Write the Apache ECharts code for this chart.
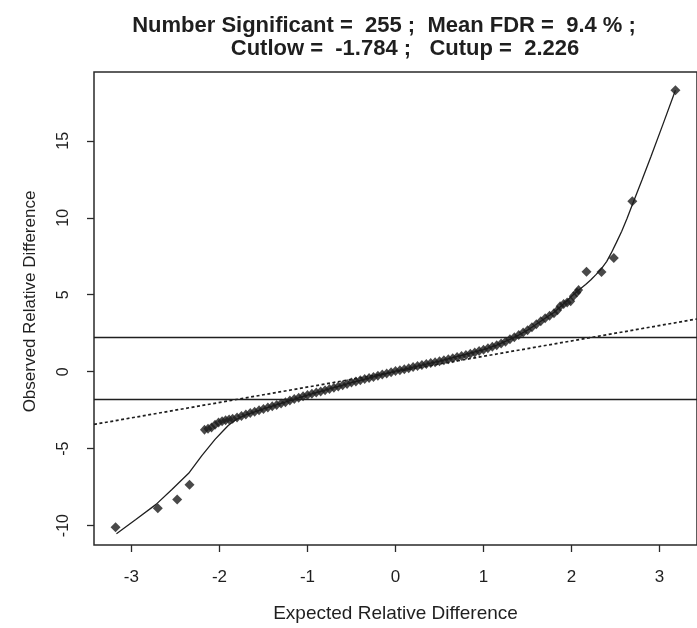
<!DOCTYPE html>
<html>
<head>
<meta charset="utf-8">
<script src="https://cdn.jsdelivr.net/npm/echarts@6/dist/echarts.min.js"></script>
<style>
  html, body { margin: 0; padding: 0; background: #fff; }
  #main { width: 697px; height: 628px; }
</style>
</head>
<body>
<div id="main"></div>
<script>
// ********
// * Data *
// ********

// Dense band of significant genes (expected, observed)
const clusterExpected = [
  -2.17, -2.13, -2.09, -2.05, -2.01, -1.97, -1.93, -1.89, -1.85, -1.80,
  -1.75, -1.70, -1.65, -1.60, -1.55, -1.50, -1.45, -1.40, -1.35, -1.30,
  -1.25, -1.20, -1.15, -1.10, -1.05, -1.00, -0.95, -0.90, -0.85, -0.80,
  -0.75, -0.70, -0.65, -0.60, -0.55, -0.50, -0.45, -0.40, -0.35, -0.30,
  -0.25, -0.20, -0.15, -0.10, -0.05, 0.00, 0.05, 0.10, 0.15, 0.20,
  0.25, 0.30, 0.35, 0.40, 0.45, 0.50, 0.55, 0.60, 0.65, 0.70,
  0.75, 0.80, 0.85, 0.90, 0.95, 1.00, 1.05, 1.10, 1.15, 1.20,
  1.25, 1.30, 1.35, 1.40, 1.45, 1.50, 1.55, 1.60, 1.65, 1.70,
  1.75, 1.80, 1.84, 1.87, 1.91, 1.95, 1.99, 2.02, 2.06, 2.08
];
const clusterObserved = [
  -3.78, -3.70, -3.62, -3.45, -3.30, -3.22, -3.15, -3.10, -3.05, -2.98,
  -2.88, -2.78, -2.69, -2.60, -2.51, -2.42, -2.33, -2.25, -2.16, -2.07,
  -1.98, -1.88, -1.78, -1.69, -1.60, -1.52, -1.44, -1.36, -1.28, -1.20,
  -1.12, -1.04, -0.96, -0.88, -0.80, -0.71, -0.63, -0.55, -0.48, -0.41,
  -0.34, -0.27, -0.19, -0.11, -0.03, 0.04, 0.10, 0.16, 0.23, 0.30,
  0.37, 0.44, 0.50, 0.56, 0.62, 0.68, 0.74, 0.81, 0.88, 0.95,
  1.02, 1.09, 1.17, 1.25, 1.34, 1.43, 1.52, 1.62, 1.72, 1.83,
  1.95, 2.10, 2.24, 2.38, 2.54, 2.70, 2.88, 3.08, 3.27, 3.47,
  3.64, 3.80, 3.99, 4.25, 4.40, 4.50, 4.58, 4.90, 5.15, 5.30
];

// Isolated points in both tails
const tailExpected = [-3.18, -2.70, -2.48, -2.34, 2.17, 2.34, 2.48, 2.69, 3.18];
const tailObserved = [-10.10, -8.87, -8.31, -7.34, 6.50, 6.48, 7.39, 11.08, 18.29];

// Smoothed fit through the points
const fitExpected = [
  -3.17, -2.95, -2.72, -2.54, -2.35, -2.20, -2.05, -1.96, -1.90, -1.83,
  -1.76, -1.70, -1.50, -1.00, -0.50, 0.00, 0.50, 1.00, 1.15, 1.30,
  1.40, 1.50, 1.60, 1.72, 1.80, 1.91, 2.00, 2.10, 2.16, 2.22,
  2.28, 2.34, 2.40, 2.45, 2.51, 2.57, 2.63, 2.69, 2.80, 2.90,
  3.04, 3.18
];
const fitObserved = [
  -10.53, -9.60, -8.62, -7.65, -6.60, -5.45, -4.40, -3.85, -3.50, -3.18,
  -2.96, -2.80, -2.42, -1.52, -0.71, 0.04, 0.68, 1.43, 1.72, 2.10,
  2.38, 2.70, 3.08, 3.55, 3.85, 4.42, 4.90, 5.39, 5.66, 5.97,
  6.32, 6.70, 7.17, 7.70, 8.40, 9.12, 9.95, 10.85, 12.45, 13.95,
  16.10, 18.29
];

// Identity line (observed = expected)
const identityEnds = [-3.425, 3.425];

const cutLow = -1.784;
const cutUp = 2.226;

const xTicks = [-3, -2, -1, 0, 1, 2, 3];
const yTicks = [-10, -5, 0, 5, 10, 15];

const titleLine1 = "Number Significant =  255 ;  Mean FDR =  9.4 % ;";
const titleLine2 = "Cutlow =  -1.784 ;   Cutup =  2.226";

// *********
// * Chart *
// *********

const chart = echarts.init(document.getElementById("main"), null, { renderer: "canvas" });

const font = "'Liberation Sans', Arial, sans-serif";
const ink = "#1f1f1f";

const zip = (xs, ys) => xs.map((x, i) => [x, ys[i]]);

const option = {
  animation: false,
  backgroundColor: "#fff",
  textStyle: { fontFamily: font, color: ink },
  title: [
    {
      text: titleLine1,
      left: 379,
      top: 10,
      textAlign: "center",
      textStyle: { fontSize: 22, fontWeight: "bold", color: ink, fontFamily: font },
    },
    {
      text: titleLine2,
      left: 400,
      top: 33,
      textAlign: "center",
      textStyle: { fontSize: 22, fontWeight: "bold", color: ink, fontFamily: font },
    },
  ],
  grid: {
    left: 94,
    right: -8,
    top: 72,
    bottom: 80,
    show: true,
    borderColor: "#2a2a2a",
    borderWidth: 1.5,
    backgroundColor: "transparent",
  },
  xAxis: {
    type: "value",
    min: -3.425,
    max: 3.425,
    axisLine: { show: false, onZero: false },
    axisTick: { show: true, length: 7, customValues: xTicks, lineStyle: { color: "#2a2a2a", width: 1.3 } },
    axisLabel: { customValues: xTicks, fontSize: 17, margin: 24, color: ink, fontFamily: font },
    splitLine: { show: false },
    name: "Expected Relative Difference",
    nameLocation: "middle",
    nameGap: 59,
    nameTextStyle: { fontSize: 19, color: ink, fontFamily: font },
  },
  yAxis: {
    type: "value",
    min: -11.26,
    max: 19.47,
    axisLine: { show: false, onZero: false },
    axisTick: { show: true, length: 7, customValues: yTicks, lineStyle: { color: "#2a2a2a", width: 1.3 } },
    axisLabel: { customValues: yTicks, rotate: 90, fontSize: 16, margin: 22, color: ink, fontFamily: font },
    splitLine: { show: false },
    name: "Observed Relative Difference",
    nameLocation: "middle",
    nameGap: 55,
    nameTextStyle: { fontSize: 17, color: ink, fontFamily: font, padding: [0, 0, 0, 14] },
  },
  series: [
    {
      name: "Fit",
      type: "line",
      data: zip(fitExpected, fitObserved),
      showSymbol: false,
      smooth: false,
      lineStyle: { color: ink, width: 1.3 },
      z: 2,
    },
    {
      name: "Identity",
      type: "line",
      data: zip(identityEnds, identityEnds),
      showSymbol: false,
      lineStyle: { color: ink, width: 1.7, type: [3, 2.5] },
      z: 2,
    },
    {
      name: "Genes",
      type: "scatter",
      data: zip(clusterExpected, clusterObserved),
      symbol: "diamond",
      symbolSize: [9, 10],
      itemStyle: { color: "#1c1c1c" },
      z: 3,
      markLine: {
        silent: true,
        symbol: "none",
        label: { show: false },
        lineStyle: { color: ink, width: 1.4, type: "solid" },
        data: [{ yAxis: cutUp }, { yAxis: cutLow }],
      },
    },
    {
      name: "Tails",
      type: "scatter",
      data: zip(tailExpected, tailObserved),
      symbol: "diamond",
      symbolSize: [10, 10],
      itemStyle: { color: "#1c1c1c" },
      z: 3,
    },
  ],
};

chart.setOption(option);
</script>
</body>
</html>
